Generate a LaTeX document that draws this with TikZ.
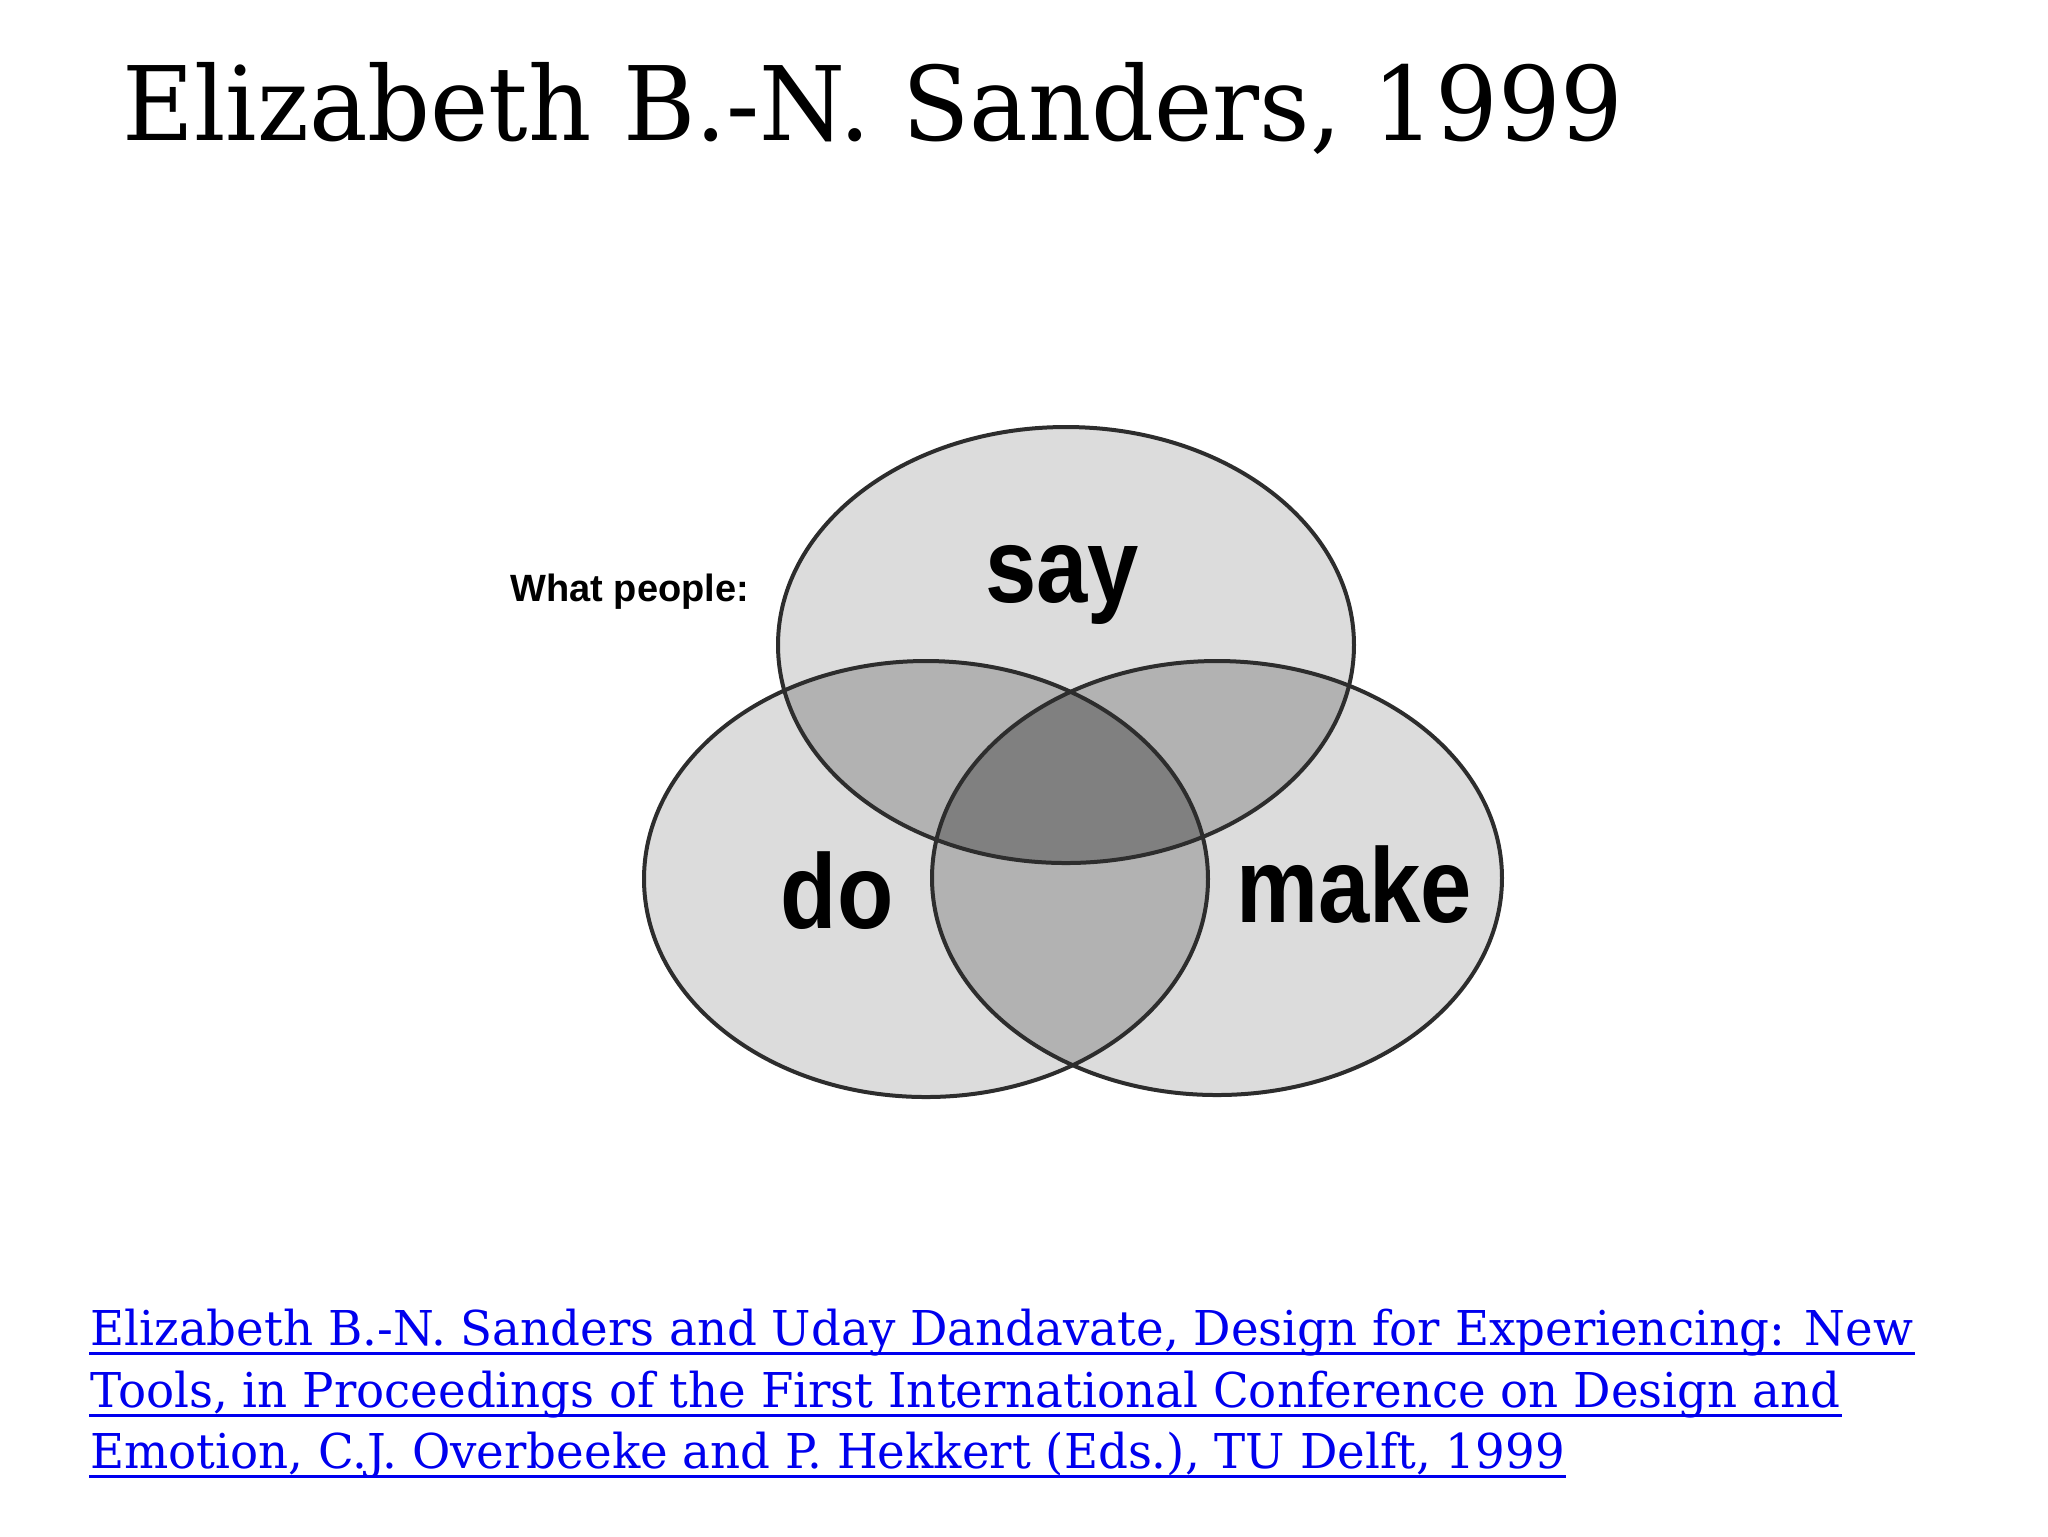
\documentclass[tikz,border=0pt]{standalone}
\usepackage{fontspec}
\usepackage{tikz}
\usepackage{xcolor}
\newfontfamily\slabfont[FakeStretch=0.957]{DejaVu Serif}
\newfontfamily\reffont[FakeStretch=0.973]{DejaVu Serif}
\newfontfamily\vennfont[FakeStretch=0.87]{Liberation Sans}
\newfontfamily\notefont{Liberation Sans}
\definecolor{linkblue}{RGB}{0,0,238}
\tikzset{every picture/.style={line width=0.75pt}}
\tikzset{
  single/.style={fill={rgb,255:red,220;green,220;blue,220}},
  pair/.style={fill={rgb,255:red,178;green,178;blue,178}},
  triple/.style={fill={rgb,255:red,128;green,128;blue,128}},
  rim/.style={draw={rgb,255:red,45;green,45;blue,45},line width=1pt},
  word/.style={anchor=base,inner sep=0pt,font=\vennfont\bfseries\fontsize{26.5}{30}\selectfont},
  foot/.style={anchor=base west,inner sep=0pt,text=linkblue,font=\reffont\fontsize{12}{15}\selectfont},
  footline/.style={draw=linkblue,line width=0.75pt}
}

\begin{document}
\begin{tikzpicture}[x=0.25pt,y=0.25pt,yscale=-1,xscale=1]
\useasboundingbox (0,0) rectangle (2048,1536);

% Centres of the three sets
\coordinate (sayc) at (1066,645);
\coordinate (doc) at (926,879);
\coordinate (makec) at (1217,878);

% Single regions
\fill[single] (sayc) ellipse [x radius=288, y radius=218];
\fill[single] (doc) ellipse [x radius=282, y radius=218];
\fill[single] (makec) ellipse [x radius=285, y radius=217];
% Pairwise overlaps
\begin{scope}
\clip (sayc) ellipse [x radius=288, y radius=218];
\fill[pair] (doc) ellipse [x radius=282, y radius=218];
\fill[pair] (makec) ellipse [x radius=285, y radius=217];
\end{scope}
\begin{scope}
\clip (doc) ellipse [x radius=282, y radius=218];
\fill[pair] (makec) ellipse [x radius=285, y radius=217];
\end{scope}
% Centre overlap
\begin{scope}
\clip (sayc) ellipse [x radius=288, y radius=218];
\clip (doc) ellipse [x radius=282, y radius=218];
\fill[triple] (makec) ellipse [x radius=285, y radius=217];
\end{scope}
% Outlines
\draw[rim] (sayc) ellipse [x radius=288, y radius=218];
\draw[rim] (doc) ellipse [x radius=282, y radius=218];
\draw[rim] (makec) ellipse [x radius=285, y radius=217];

% Text Node
\node[anchor=base west,inner sep=0pt,font=\slabfont\fontsize{25.7}{30}\selectfont] (title) at (121,140) {Elizabeth B.-N. Sanders, 1999};
% Text Node
\node[anchor=base west,inner sep=0pt,font=\notefont\bfseries\fontsize{9.5}{11}\selectfont] (people) at (509,601) {What people:};
% Text Node
\node[word] (say) at (1062,602) {say};
% Text Node
\node[word] (do) at (837,928) {do};
% Text Node
\node[word] (make) at (1354,922) {make};

% Reference
\node[foot] (foot1) at (89,1345) {Elizabeth B.-N. Sanders and Uday Dandavate, Design for Experiencing: New};
\node[foot] (foot2) at (89,1407) {Tools, in Proceedings of the First International Conference on Design and};
\node[foot] (foot3) at (89,1468) {Emotion, C.J. Overbeeke and P. Hekkert (Eds.), TU Delft, 1999};
\draw[footline] ([yshift=2pt]foot1.base west) -- ([yshift=2pt]foot1.base east);
\draw[footline] ([yshift=2pt]foot2.base west) -- ([yshift=2pt]foot2.base east);
\draw[footline] ([yshift=2pt]foot3.base west) -- ([yshift=2pt]foot3.base east);

\end{tikzpicture}
\end{document}
